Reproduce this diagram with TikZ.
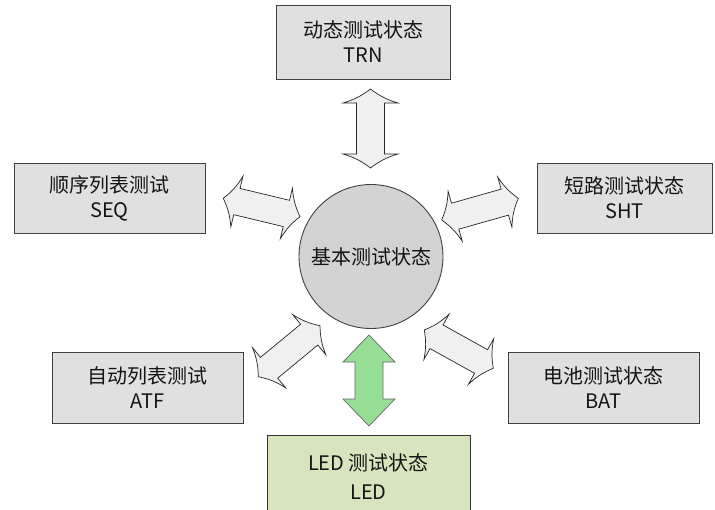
\documentclass[tikz,border=0pt]{standalone}
\usepackage{fontspec}
\setmainfont{Noto Sans CJK SC}
\usetikzlibrary{calc}
\definecolor{boxgray}{RGB}{224,224,224}
\definecolor{circgray}{RGB}{211,211,211}
\definecolor{arrgray}{RGB}{240,240,240}
\definecolor{arrgreen}{RGB}{150,222,150}
\definecolor{ledgreen}{RGB}{216,228,189}
\definecolor{edgegray}{RGB}{64,64,64}
\definecolor{txt}{RGB}{20,20,20}
% #1 style, #2/#3 ends, #4 half head width, #5 half shaft width, #6 head length, #7 bend
\newcommand\blockarrow[7]{%
  \draw[#1] (#2) to[bend right=#7] ($(#2)!#6!(#3)!#4!90:(#3)$) -- ($(#2)!#6!(#3)!#5!90:(#3)$)
    -- ($(#3)!#6!(#2)!#5!-90:(#2)$) -- ($(#3)!#6!(#2)!#4!-90:(#2)$) to[bend right=#7] (#3)
    to[bend right=#7] ($(#3)!#6!(#2)!#4!90:(#2)$) -- ($(#3)!#6!(#2)!#5!90:(#2)$)
    -- ($(#2)!#6!(#3)!#5!-90:(#3)$) -- ($(#2)!#6!(#3)!#4!-90:(#3)$) to[bend right=#7] (#2) -- cycle;}
\tikzset{
  statebox/.style={draw=edgegray, line width=0.9pt, fill=boxgray, align=center,
    text=txt, inner sep=0pt, font=\fontsize{20}{25}\selectfont},
  hub/.style={circle, draw=edgegray, line width=0.9pt, fill=circgray, text=txt,
    minimum size=144pt, inner sep=0pt, font=\fontsize{20}{25}\selectfont},
  grayarrow/.style={draw=black!85, line width=0.7pt, fill=arrgray, line join=miter},
  greenarrow/.style={draw=black!60, line width=0.7pt, fill=arrgreen, line join=miter},
}
\begin{document}
\begin{tikzpicture}[x=1pt,y=-1pt]
\useasboundingbox (0,0) rectangle (715,509);
% boxes
\node[statebox, minimum width=174pt, minimum height=74pt] (trn) at (363,42) {动态测试状态\\TRN};
\node[statebox, minimum width=191pt, minimum height=70pt] (seq) at (109.5,198) {顺序列表测试\\SEQ};
\node[statebox, minimum width=175pt, minimum height=70pt] (sht) at (624.5,198) {短路测试状态\\SHT};
\node[statebox, minimum width=191pt, minimum height=71pt] (atf) at (147.5,387.5) {自动列表测试\\ATF};
\node[statebox, minimum width=191pt, minimum height=71pt] (bat) at (603.5,387.5) {电池测试状态\\BAT};
\node[statebox, fill=ledgreen, draw=black!80, minimum width=203pt, minimum height=80pt, text height=20pt] (led) at (368.5,475) {};
\node[text=txt, align=center, font=\fontsize{20}{29}\selectfont] (ledtxt) at (368.5,476.5) {LED 测试状态\\LED};
\node[hub] (hub) at (371,256.5) {基本测试状态};
% arrow end points
\coordinate (t1) at (370.5,89);   \coordinate (t2) at (370.5,168);
\coordinate (ul1) at (223.3,198.3); \coordinate (ul2) at (300,216.7);
\coordinate (ur1) at (441.7,220);   \coordinate (ur2) at (518.3,198.3);
\coordinate (ll1) at (258.3,376.7); \coordinate (ll2) at (320,325.7);
\coordinate (lr1) at (424.3,330);   \coordinate (lr2) at (493.3,368.3);
\coordinate (g1) at (369,335);      \coordinate (g2) at (369,426);
% arrows
\blockarrow{grayarrow}{t1}{t2}{27.5pt}{14pt}{14pt}{10}
\blockarrow{grayarrow}{ul1}{ul2}{26pt}{13.5pt}{14pt}{10}
\blockarrow{grayarrow}{ur1}{ur2}{26pt}{13.5pt}{14pt}{10}
\blockarrow{grayarrow}{ll1}{ll2}{26pt}{13.5pt}{14pt}{10}
\blockarrow{grayarrow}{lr1}{lr2}{26pt}{13.5pt}{14pt}{10}
\blockarrow{greenarrow}{g1}{g2}{26pt}{14pt}{27pt}{0}
\end{tikzpicture}
\end{document}
